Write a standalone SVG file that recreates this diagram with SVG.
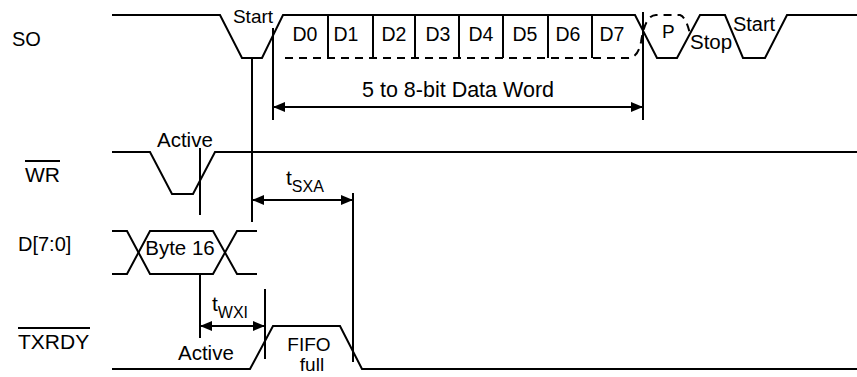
<svg xmlns="http://www.w3.org/2000/svg" width="857" height="377" viewBox="0 0 857 377">
<style>
  .w { fill: none; stroke: #000; stroke-width: 2; stroke-linejoin: miter; }
  .d { fill: none; stroke: #000; stroke-width: 2; stroke-dasharray: 8 6; }
  .c { fill: none; stroke: #000; stroke-width: 2; }
  text { font-family: "Liberation Sans", Arial, sans-serif; font-size: 20px; fill: #000; }
  .m { text-anchor: middle; }
</style>
<defs>
  <marker id="ah" markerUnits="userSpaceOnUse" markerWidth="12" markerHeight="10" refX="12" refY="5" orient="auto-start-reverse">
    <path d="M0,0 L12,5 L0,10 Z" fill="#000"/>
  </marker>
</defs>
<rect width="857" height="377" fill="#fff"/>

<g id="so">
  <text x="12" y="46">SO</text>
  <path class="w" d="M112,15 H220 L242,58 H262 L283,15 H635 L657,58 H677 L700,15 H725 L743,58 H765 L787,15 H857"/>
  <path class="w" d="M328,15 V58 M373,15 V58 M415,15 V58 M459,15 V58 M503,15 V58 M548,15 V58 M592,15 V58"/>
  <path class="d" d="M285,58 H628 Q638,58 641,42 Q645,15 656,15 H680 Q686,17 690,34"/>
  <text class="m" x="253" y="23" style="font-size:19px">Start</text>
  <text class="m" x="305" y="41" style="font-size:19.5px">D0</text>
  <text class="m" x="346" y="41" style="font-size:19.5px">D1</text>
  <text class="m" x="394" y="41" style="font-size:19.5px">D2</text>
  <text class="m" x="438" y="41" style="font-size:19.5px">D3</text>
  <text class="m" x="481" y="41" style="font-size:19.5px">D4</text>
  <text class="m" x="525" y="41" style="font-size:19.5px">D5</text>
  <text class="m" x="568" y="41" style="font-size:19.5px">D6</text>
  <text class="m" x="612" y="41" style="font-size:19.5px">D7</text>
  <text x="662" y="38" style="font-size:19px">P</text>
  <text x="690" y="49" style="font-size:20.5px">Stop</text>
  <text class="m" x="754" y="31" style="font-size:20px">Start</text>
</g>

<g id="wr">
  <text x="25" y="182" style="font-size:21px">WR</text>
  <path class="c" d="M25,161 H60"/>
  <path class="w" d="M112,152 H150 L172,194 H193 L215,152 H857"/>
  <text x="157" y="147" style="font-size:20.5px">Active</text>
</g>

<g id="data">
  <text x="18" y="251" style="font-size:20px">D[7:0]</text>
  <path class="w" d="M112,231 H127 L150,274 H213 L237,231 H257"/>
  <path class="w" d="M112,274 H127 L150,231 H213 L237,274 H257"/>
  <text class="m" x="180" y="255" style="font-size:20.5px">Byte 16</text>
</g>

<g id="txrdy">
  <text x="18" y="349" style="font-size:21px">TXRDY</text>
  <path class="c" d="M18,328 H90"/>
  <path class="w" d="M112,369 H250 L273,326 H340 L362,369 H857"/>
  <text x="178" y="360" style="font-size:20.5px">Active</text>
  <text class="m" x="309" y="351" style="font-size:19px">FIFO</text>
  <text class="m" x="312" y="371" style="font-size:19px">full</text>
</g>

<g id="connectors">
  <path class="c" d="M252,58 V222"/>
  <path class="c" d="M273,28 V120"/>
  <path class="c" d="M643,12 V120"/>
  <path class="c" d="M200,148 V215"/>
  <path class="c" d="M353,193 V362"/>
  <path class="c" d="M200,275 V338"/>
  <path class="c" d="M265,289 V359"/>
  <line class="c" x1="273" y1="107" x2="643" y2="107" marker-start="url(#ah)" marker-end="url(#ah)"/>
  <line class="c" x1="252" y1="200" x2="353" y2="200" marker-start="url(#ah)" marker-end="url(#ah)"/>
  <line class="c" x1="200" y1="326" x2="265" y2="326" marker-start="url(#ah)" marker-end="url(#ah)"/>
  <text x="362" y="97" style="font-size:21.5px">5 to 8-bit Data Word</text>
  <text x="286" y="185" style="font-size:21px">t<tspan dy="7" style="font-size:16px">SXA</tspan></text>
  <text x="212" y="311" style="font-size:21px">t<tspan dy="7" style="font-size:16px">WXI</tspan></text>
</g>
</svg>
